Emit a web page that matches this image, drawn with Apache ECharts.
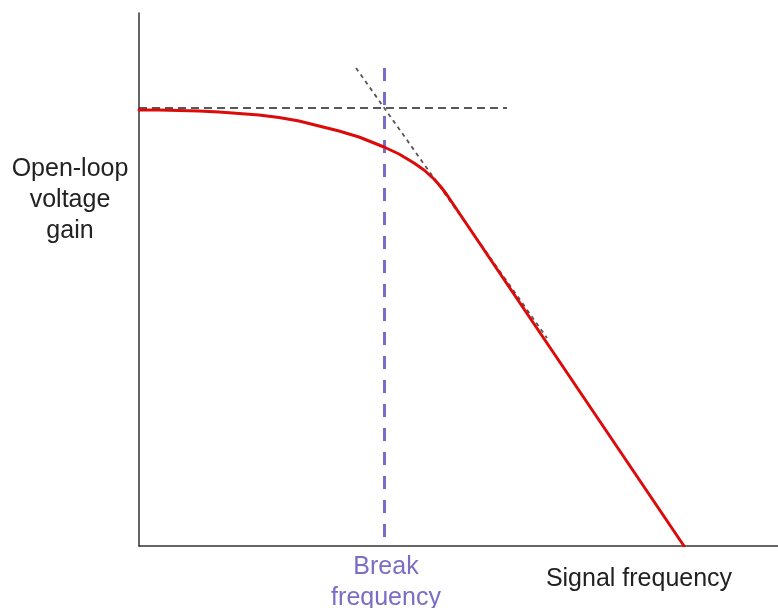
<!DOCTYPE html>
<html>
<head>
<meta charset="utf-8">
<script src="https://cdn.jsdelivr.net/npm/echarts@6/dist/echarts.min.js"></script>
<style>
  html, body { margin: 0; padding: 0; background: #fff; }
  #chart { width: 778px; height: 608px; }
</style>
</head>
<body>
<div id="chart"></div>
<script>
// frequency / gain in arbitrary units (no ticks on the original)
const gainFreq = [0, 20, 40, 60, 80, 100, 120, 140, 160, 180, 200, 220, 245, 260, 275, 285, 295, 302, 308, 545];
const gainValue = [436, 436, 435.5, 435, 434, 432.5, 431, 428.5, 425, 420, 415, 409, 399, 392, 383, 376, 367, 359, 351, 0];

const flatAsymptoteFreq = [0, 368];
const flatAsymptoteGain = [438, 438];

const slopeAsymptoteFreq = [217, 408];
const slopeAsymptoteGain = [478, 208];

const breakFreq = [245.5, 245.5];
const breakMarkerGain = [478, 9];

const pairs = (xs, ys) => xs.map((x, i) => [x, ys[i]]);

const chart = echarts.init(document.getElementById('chart'));

const textFont = '"Liberation Sans", Arial, sans-serif';

chart.setOption({
  animation: false,
  grid: { left: 139, right: 0, top: 13, bottom: 62 },
  xAxis: {
    type: 'value', min: 0, max: 639,
    axisLine: { show: true, lineStyle: { color: '#333', width: 1.5 } },
    axisTick: { show: false }, axisLabel: { show: false }, splitLine: { show: false }
  },
  yAxis: {
    type: 'value', min: 0, max: 533,
    axisLine: { show: true, lineStyle: { color: '#333', width: 1.5 } },
    axisTick: { show: false }, axisLabel: { show: false }, splitLine: { show: false }
  },
  series: [
    {
      type: 'line', data: pairs(flatAsymptoteFreq, flatAsymptoteGain), symbol: 'none',
      lineStyle: { color: '#222', width: 1.6, type: [8, 5] }
    },
    {
      type: 'line', data: pairs(slopeAsymptoteFreq, slopeAsymptoteGain), symbol: 'none',
      lineStyle: { color: '#555', width: 1.8, type: [4, 4] }
    },
    {
      type: 'line', data: pairs(breakFreq, breakMarkerGain), symbol: 'none',
      lineStyle: { color: '#7b6ccc', width: 3, type: [13, 11] }
    },
    {
      type: 'line', data: pairs(gainFreq, gainValue), symbol: 'none',
      lineStyle: { color: '#dd0a0a', width: 3, join: 'round', cap: 'round' }
    }
  ],
  graphic: [
    {
      type: 'text', x: 70, y: 154,
      style: {
        text: 'Open-loop\nvoltage\ngain',
        font: '25px ' + textFont, fill: '#222', align: 'center', lineHeight: 31
      }
    },
    {
      type: 'text', x: 386, y: 552,
      style: {
        text: 'Break\nfrequency', font: '25px ' + textFont, fill: '#7b6cc4',
        align: 'center', lineHeight: 31
      }
    },
    {
      type: 'text', x: 639, y: 567,
      style: {
        text: 'Signal frequency', font: '25px ' + textFont, fill: '#222', align: 'center'
      }
    }
  ]
});
</script>
</body>
</html>
